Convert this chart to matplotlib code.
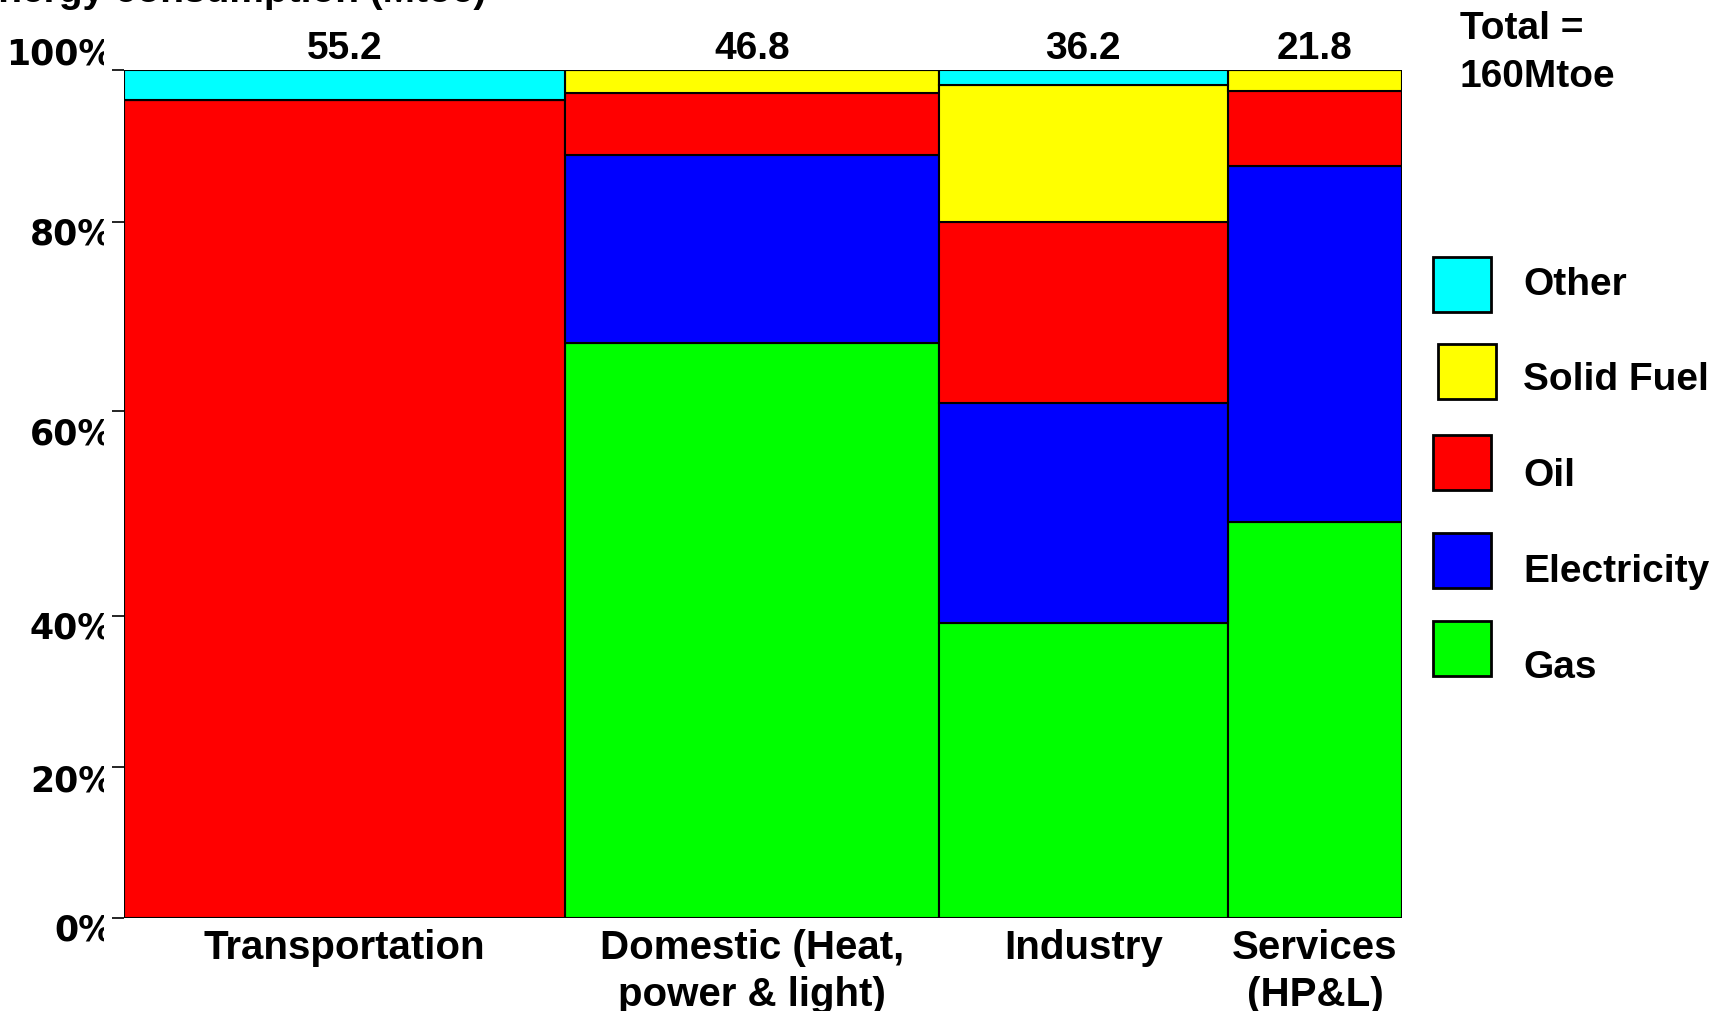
import matplotlib.pyplot as plt
import matplotlib.transforms as mtransforms
from matplotlib.patches import Rectangle
import numpy as np

plt.rcParams['font.family'] = ['Liberation Sans', 'DejaVu Sans']
plt.rcParams['font.weight'] = 'bold'

# sectors and their total consumption (Mtoe) -> bar widths
sectors = ['Transportation', 'Domestic (Heat,\npower & light)', 'Industry', 'Services\n(HP&L)']
sector_totals = [55.2, 46.8, 36.2, 21.8]

# share of each fuel within a sector (%), stacked bottom to top
gas = [0.0, 67.8, 34.8, 46.7]
electricity = [0.0, 22.1, 25.9, 41.9]
oil = [96.4, 7.4, 21.4, 8.9]
solid_fuel = [0.0, 2.7, 16.1, 2.5]
other = [3.6, 0.0, 1.8, 0.0]

fuels = ['Gas', 'Electricity', 'Oil', 'Solid Fuel', 'Other']
fuel_colors = ['#00ff00', '#0000ff', '#ff0000', '#ffff00', '#00ffff']

# the original axis has unevenly placed ticks
ytick_pos = [0, 17.8, 35.6, 59.8, 82.1, 100]
ytick_labels = ['0%', '20%', '40%', '60%', '80%', '100%']
ylabel_pos = [-1.3, 16.2, 34.3, 57.1, 80.7, 101.9]

W, H = 1722, 1012
fig = plt.figure(figsize=(W / 100, H / 100), dpi=100, facecolor='white')
ax = fig.add_axes([124 / W, 1 - 919 / H, 1278 / W, 848.3 / H])

lefts = np.concatenate([[0], np.cumsum(sector_totals)[:-1]])
centers = lefts + np.array(sector_totals) / 2
bottom = np.zeros(len(sectors))
for vals, col in zip([gas, electricity, oil, solid_fuel, other], fuel_colors):
    vals = np.array(vals)
    ax.bar(lefts, vals, width=sector_totals, bottom=bottom, align='edge',
           color=col, edgecolor='black', linewidth=1.5)
    bottom += vals

ax.set_xlim(0, sum(sector_totals))
ax.set_ylim(0, 100)
for s in ax.spines.values():
    s.set_visible(False)

ax.set_xticks(centers, sectors, fontsize=29, linespacing=1.3)
ax.tick_params(axis='x', length=0, pad=7.5)
ax.set_yticks(ytick_pos, [''] * len(ytick_pos))
ax.tick_params(axis='y', length=8.6, width=1.2, color='black', direction='out')

# y labels: wide bold face, cut off on the right like in the original
trans = mtransforms.blended_transform_factory(ax.transAxes, ax.transData)
clip = mtransforms.TransformedBbox(mtransforms.Bbox([[0, 0], [104 / W, 1]]), fig.transFigure)
for p, lab in zip(ylabel_pos, ytick_labels):
    t = ax.text(-11 / 1278, p, lab, transform=trans, ha='right', va='center',
                fontsize=25, family='DejaVu Sans', clip_on=True)
    t.set_clip_box(clip)

for c, tot in zip(centers, sector_totals):
    ax.text(c, 101.4, f'{tot}', ha='center', va='baseline', fontsize=28)

# partly cropped title at the top
fig.text(486 / W, 1 - 2 / H, 'Final energy consumption (Mtoe)', ha='right',
         va='baseline', fontsize=28)

fig.text(1460 / W, 1 - 39 / H, 'Total =', ha='left', va='baseline', fontsize=28)
fig.text(1460 / W, 1 - 87 / H, '%dMtoe' % round(sum(sector_totals)), ha='left',
         va='baseline', fontsize=28)

# hand-made legend, top to bottom
leg_box_x = [1433, 1438, 1433, 1433, 1433]
leg_box_y = [285, 372, 463, 561, 649]
leg_text_y = [281, 376, 472, 568, 664]
for i, (name, col) in enumerate(zip(fuels[::-1], fuel_colors[::-1])):
    fig.add_artist(Rectangle((leg_box_x[i] / W, 1 - (leg_box_y[i] + 27.5) / H), 58 / W, 55 / H,
                             transform=fig.transFigure, facecolor=col,
                             edgecolor='black', linewidth=2))
    fig.text(1523 / W, 1 - leg_text_y[i] / H, name, ha='left', va='center_baseline',
             fontsize=28)

fig.savefig('out.png', dpi=100, facecolor='white')
